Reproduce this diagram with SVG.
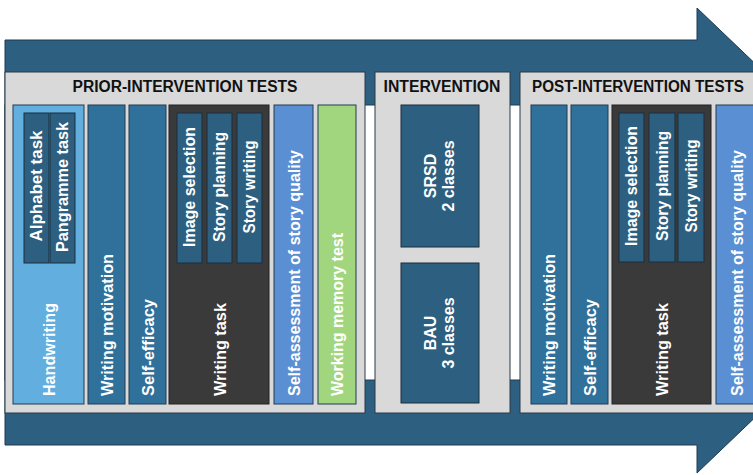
<svg xmlns="http://www.w3.org/2000/svg" width="753" height="475" viewBox="0 0 753 475">
<style>
.arrow{fill:#2d5f80;stroke:#1f3d52;stroke-width:1}
.panel{fill:#d9d9d9;stroke:#2b3a45;stroke-width:1}
.title{font-family:"Liberation Sans",Arial,sans-serif;font-weight:bold;font-size:16px;fill:#111;text-anchor:middle}
.lbl{font-family:"Liberation Sans",Arial,sans-serif;font-weight:bold;font-size:16px;fill:#fff}
.mid{text-anchor:middle}
.hand{fill:#62aedf;stroke:#1f3d52;stroke-width:1}
.med{fill:#30719b;stroke:#1f3d52;stroke-width:1}
.dark{fill:#3a3a3a;stroke:#222;stroke-width:1}
.sub{fill:#2d5f80;stroke:#1a2f3f;stroke-width:1}
.sa{fill:#5b8fd3;stroke:#1f3d52;stroke-width:1}
.wm{fill:#a2d67e;stroke:#1f3d52;stroke-width:1}
</style>
<g id="arrow">
<polygon class="arrow" points="5,40 697,40 697,8 940,240.5 697,473 697,445 5,445"/>
<rect x="5" y="105" width="692" height="275" fill="#fff" stroke="#1f3d52" stroke-width="1"/>
</g>
<g id="prior">
<rect class="panel" x="5" y="72" width="360" height="341"/>
<text class="title" x="185" y="92" textLength="225" lengthAdjust="spacingAndGlyphs">PRIOR-INTERVENTION TESTS</text>
<g id="handwriting">
<rect class="hand" x="13" y="105" width="71" height="299"/>
<rect class="sub" x="24" y="113" width="25" height="150"/>
<rect class="sub" x="50" y="113" width="25" height="150"/>
<text class="lbl mid" transform="translate(36.5,186) rotate(-90)" dy=".35em" textLength="111" lengthAdjust="spacingAndGlyphs">Alphabet task</text>
<text class="lbl mid" transform="translate(62.5,187) rotate(-90)" dy=".35em" textLength="130" lengthAdjust="spacingAndGlyphs">Pangramme task</text>
<text class="lbl" transform="translate(49,396) rotate(-90)" dy=".35em" textLength="93" lengthAdjust="spacingAndGlyphs">Handwriting</text>
</g>
<g id="pre-motivation">
<rect class="med" x="88" y="105" width="37" height="299"/>
<text class="lbl" transform="translate(107,396) rotate(-90)" dy=".35em" textLength="142" lengthAdjust="spacingAndGlyphs">Writing motivation</text>
</g>
<g id="pre-efficacy">
<rect class="med" x="129" y="105" width="37" height="299"/>
<text class="lbl" transform="translate(148,396) rotate(-90)" dy=".35em" textLength="97" lengthAdjust="spacingAndGlyphs">Self-efficacy</text>
</g>
<g id="pre-writing">
<rect class="dark" x="169" y="105" width="100" height="299"/>
<rect class="sub" x="177" y="113" width="25" height="150"/>
<rect class="sub" x="207" y="113" width="25" height="150"/>
<rect class="sub" x="237" y="113" width="25" height="150"/>
<text class="lbl mid" transform="translate(189.5,187) rotate(-90)" dy=".35em" textLength="120" lengthAdjust="spacingAndGlyphs">Image selection</text>
<text class="lbl mid" transform="translate(219.5,187) rotate(-90)" dy=".35em" textLength="110" lengthAdjust="spacingAndGlyphs">Story planning</text>
<text class="lbl mid" transform="translate(249.5,187) rotate(-90)" dy=".35em" textLength="93" lengthAdjust="spacingAndGlyphs">Story writing</text>
<text class="lbl" transform="translate(220,396) rotate(-90)" dy=".35em" textLength="93" lengthAdjust="spacingAndGlyphs">Writing task</text>
</g>
<g id="pre-selfassess">
<rect class="sa" x="274" y="105" width="39" height="299"/>
<text class="lbl" transform="translate(294,396) rotate(-90)" dy=".35em" textLength="246" lengthAdjust="spacingAndGlyphs">Self-assessment of story quality</text>
</g>
<g id="working-memory">
<rect class="wm" x="318" y="105" width="38" height="299"/>
<text class="lbl" transform="translate(337,396) rotate(-90)" dy=".35em" textLength="163" lengthAdjust="spacingAndGlyphs">Working memory test</text>
</g>
</g>
<g id="intervention">
<rect class="panel" x="375" y="72" width="135" height="341"/>
<text class="title" x="442" y="92" textLength="117" lengthAdjust="spacingAndGlyphs">INTERVENTION</text>
<g id="srsd">
<rect class="sub" x="401" y="105" width="78" height="142"/>
<text class="lbl mid" transform="translate(439,176) rotate(-90)"><tspan x="0" y="-9" dy=".35em">SRSD</tspan><tspan x="0" y="9" dy=".35em">2 classes</tspan></text>
</g>
<g id="bau">
<rect class="sub" x="401" y="263" width="78" height="140"/>
<text class="lbl mid" transform="translate(439,333) rotate(-90)"><tspan x="0" y="-9" dy=".35em">BAU</tspan><tspan x="0" y="9" dy=".35em">3 classes</tspan></text>
</g>
</g>
<g id="post">
<rect class="panel" x="520" y="72" width="245" height="341"/>
<text class="title" x="638" y="92" textLength="212" lengthAdjust="spacingAndGlyphs">POST-INTERVENTION TESTS</text>
<g id="post-motivation">
<rect class="med" x="531" y="105" width="36" height="299"/>
<text class="lbl" transform="translate(549.5,396) rotate(-90)" dy=".35em" textLength="142" lengthAdjust="spacingAndGlyphs">Writing motivation</text>
</g>
<g id="post-efficacy">
<rect class="med" x="571" y="105" width="37" height="299"/>
<text class="lbl" transform="translate(590,396) rotate(-90)" dy=".35em" textLength="97" lengthAdjust="spacingAndGlyphs">Self-efficacy</text>
</g>
<g id="post-writing">
<rect class="dark" x="612" y="105" width="99" height="299"/>
<rect class="sub" x="619" y="113" width="25" height="149"/>
<rect class="sub" x="649" y="113" width="26" height="149"/>
<rect class="sub" x="678" y="113" width="26" height="149"/>
<text class="lbl mid" transform="translate(631.5,186) rotate(-90)" dy=".35em" textLength="120" lengthAdjust="spacingAndGlyphs">Image selection</text>
<text class="lbl mid" transform="translate(662,186) rotate(-90)" dy=".35em" textLength="110" lengthAdjust="spacingAndGlyphs">Story planning</text>
<text class="lbl mid" transform="translate(691,186) rotate(-90)" dy=".35em" textLength="93" lengthAdjust="spacingAndGlyphs">Story writing</text>
<text class="lbl" transform="translate(662,396) rotate(-90)" dy=".35em" textLength="93" lengthAdjust="spacingAndGlyphs">Writing task</text>
</g>
<g id="post-selfassess">
<rect class="sa" x="716" y="105" width="50" height="299"/>
<text class="lbl" transform="translate(737,396) rotate(-90)" dy=".35em" textLength="246" lengthAdjust="spacingAndGlyphs">Self-assessment of story quality</text>
</g>
</g>
</svg>
